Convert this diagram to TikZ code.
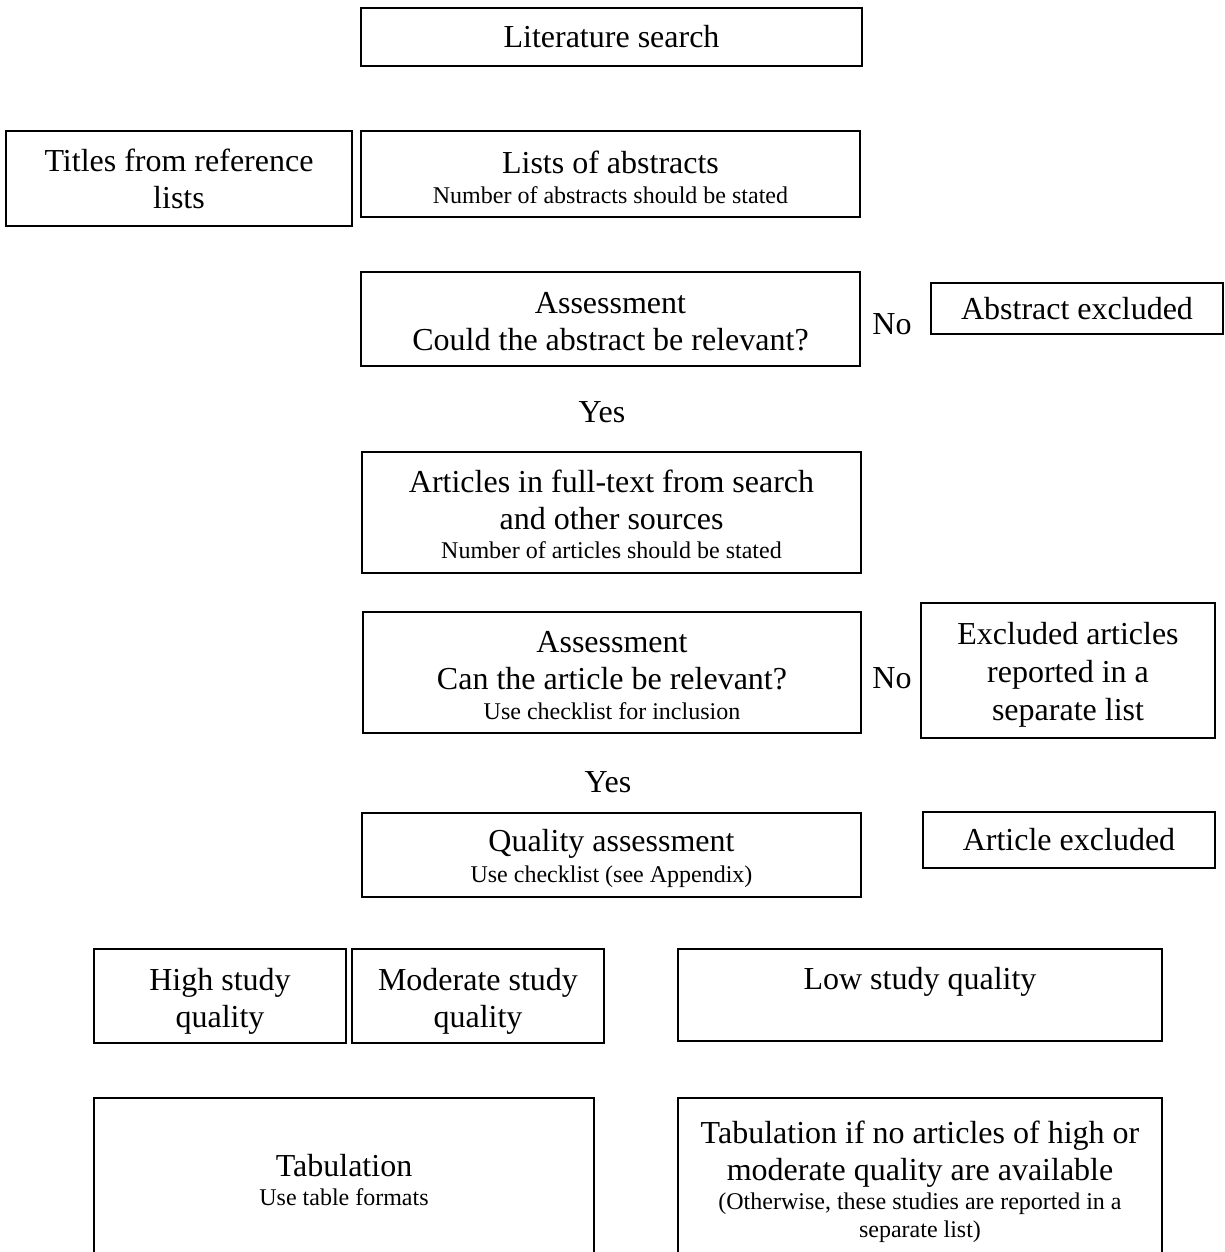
\documentclass[tikz,border=0pt]{standalone}
\usepackage{fontspec}
\setmainfont{Liberation Serif}
\newcommand\bigf{\fontsize{32}{37}\selectfont}
\newcommand\smallf{\fontsize{24}{28}\selectfont}
\begin{document}
\begin{tikzpicture}[x=1pt,y=-1pt,
  box/.style={draw, line width=1.4pt, inner sep=0pt, align=center, font=\bigf},
  lbl/.style={inner sep=0pt, font=\bigf}]
\useasboundingbox (0,0) rectangle (1225,1252);
\clip (0,0) rectangle (1225,1252);
\node[box, minimum width=501pt, minimum height=58pt] (lit) at (611.5,37) {Literature search};
\node[box, minimum width=346pt, minimum height=95pt] (titles) at (179,178.5) {Titles from reference\\lists};
\node[box, minimum width=499pt, minimum height=86pt] (lists) at (610.5,174) {\mbox{}\\[-8pt]Lists of abstracts\\[-7pt]{\smallf Number of abstracts should be stated}};
\node[box, minimum width=499pt, minimum height=94pt] (assessA) at (610.5,319) {\mbox{}\\[-11pt]Assessment\\Could the abstract be relevant?};
\node[lbl] (noA) at (892,324) {No};
\node[box, minimum width=292pt, minimum height=51pt] (absexcl) at (1077,308.5) {Abstract excluded};
\node[lbl] (yesA) at (602,412) {Yes};
\node[box, minimum width=499pt, minimum height=121pt] (full) at (611.5,512.5) {\mbox{}\\[-11pt]Articles in full-text from search\\and other sources\\[-8pt]{\smallf Number of articles should be stated}};
\node[box, minimum width=498pt, minimum height=121pt] (assessB) at (612,672.5) {\mbox{}\\[-10pt]Assessment\\Can the article be relevant?\\[-7pt]{\smallf Use checklist for inclusion}};
\node[lbl] (noB) at (892,678) {No};
\node[box, minimum width=294pt, minimum height=135pt] (exclart) at (1068,670.5) {\mbox{}\\[-7pt]Excluded articles\\[1pt]reported in a\\[1pt]separate list};
\node[lbl] (yesB) at (608,782) {Yes};
\node[box, minimum width=499pt, minimum height=84pt] (quality) at (611.5,855) {\mbox{}\\[-7pt]Quality assessment\\[-6pt]{\smallf Use checklist (see Appendix)}};
\node[box, minimum width=292pt, minimum height=56pt] (artexcl) at (1069,840) {Article excluded};
\node[box, minimum width=252pt, minimum height=94pt] (high) at (220,996) {\mbox{}\\[-5pt]High study\\quality};
\node[box, minimum width=252pt, minimum height=94pt] (moderate) at (478,996) {\mbox{}\\[-5pt]Moderate study\\quality};
\node[box, minimum width=484pt, minimum height=92pt] (low) at (920,995) {Low study quality\\[-14pt]\strut};
\node[box, minimum width=500pt, minimum height=160pt] (tab) at (344,1178) {\mbox{}\\[-11pt]Tabulation\\[-8pt]{\smallf Use table formats}};
\node[box, minimum width=484pt, minimum height=160pt] (tabif) at (920,1178) {\mbox{}\\[-6pt]Tabulation if no articles of high or\\moderate quality are available\\[-8pt]{\smallf (Otherwise, these studies are reported in a}\\[-9pt]{\smallf separate list)}};
\end{tikzpicture}
\end{document}
